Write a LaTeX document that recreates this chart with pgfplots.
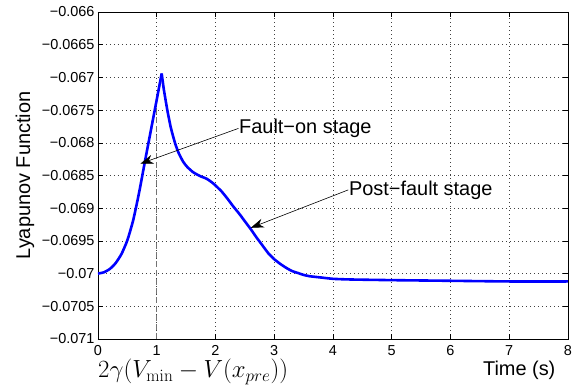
\documentclass[border=0pt]{standalone}
\usepackage[no-math]{fontspec}
\setmainfont{Liberation Sans}
\usepackage{pgfplots}
\pgfplotsset{compat=1.18}
\usetikzlibrary{arrows.meta}
\begin{document}
\begin{tikzpicture}
\useasboundingbox (-98bp,-47bp) rectangle (480bp,339bp);
\begin{axis}[
  at={(0,0)}, anchor=south west,
  scale only axis, width=470bp, height=327bp,
  xmin=0, xmax=8, ymin=-0.071, ymax=-0.066,
  xtick={0,1,2,3,4,5,6,7,8},
  ytick={-0.071,-0.0705,-0.07,-0.0695,-0.069,-0.0685,-0.068,-0.0675,-0.067,-0.0665,-0.066},
  yticklabels={−0.071,−0.0705,−0.07,−0.0695,−0.069,−0.0685,−0.068,−0.0675,−0.067,−0.0665,−0.066},
  xticklabels={0,1,2,3,4,5,6,7,8},
  scaled y ticks=false,
  tick align=inside, xtick pos=both, ytick pos=both,
  major tick length=5bp,
  tick style={black, line width=0.5bp},
  ticklabel style={font=\fontsize{14.5}{16}\selectfont},
  xticklabel style={yshift=-3bp},
  grid=major,
  grid style={black!75, line width=0.5bp, dash pattern=on 0.8bp off 3.2bp},
  axis line style={black, line width=0.9bp},
  clip=false,
]
\addplot[black!55, line width=1.2bp, dash pattern=on 6bp off 3bp] coordinates {(1,-0.071) (1,-0.06734)};
\addplot[blue, line width=2.6bp, smooth, tension=0.35, line join=round] coordinates {
(0,-0.07000) (0.1,-0.06998) (0.2,-0.069930) (0.3,-0.069840) (0.4,-0.069700)
(0.5,-0.069490) (0.6,-0.069180) (0.7,-0.068760) (0.8,-0.068280) (0.9,-0.067810)
(1.0,-0.067340) (1.04,-0.067150) (1.084,-0.066940)
};
\addplot[blue, line width=2.6bp, smooth, tension=0.35, line join=round] coordinates {
(1.084,-0.06694) (1.12,-0.06718) (1.18,-0.06750) (1.24,-0.06777) (1.31,-0.06800)
(1.37,-0.06815) (1.45,-0.06829) (1.52,-0.06837) (1.62,-0.06845) (1.74,-0.06851)
(1.85,-0.06855) (1.96,-0.06862) (2.1,-0.06874) (2.2,-0.06885) (2.3,-0.06897)
(2.4,-0.06908) (2.5,-0.06920) (2.6,-0.06932) (2.7,-0.06945) (2.8,-0.06957)
(2.9,-0.06969) (3.0,-0.06978) (3.1,-0.06985) (3.2,-0.06991) (3.3,-0.06996)
(3.4,-0.06999) (3.5,-0.07002) (3.6,-0.07004) (3.8,-0.07006) (4.0,-0.07008)
(4.3,-0.07009) (5,-0.07010) (6,-0.07011) (7,-0.07012) (8,-0.07012)
};
\draw[black, line width=0.6bp, -{Stealth[length=13bp,width=9bp,inset=4bp]}] (axis cs:2.39,-0.06778) -- (axis cs:0.72,-0.06832);
\draw[black, line width=0.6bp, -{Stealth[length=13bp,width=9bp,inset=4bp]}] (axis cs:4.26,-0.06872) -- (axis cs:2.60,-0.06930);
\node[anchor=west, inner sep=0pt, font=\fontsize{20}{22}\selectfont] at (axis cs:2.40,-0.06778) {Fault−on stage};
\node[anchor=west, inner sep=0pt, font=\fontsize{20}{22}\selectfont] at (axis cs:4.27,-0.06872) {Post−fault stage};
\node[inner sep=0pt, font=\fontsize{20}{22}\selectfont] at ([yshift=-31bp]axis cs:7.17,-0.071) {Time (s)};
\node[anchor=west, inner sep=0pt, font=\fontsize{23.5}{25}\selectfont] at ([yshift=-33bp]axis cs:0,-0.071) {$2\gamma(V_{\min}-V(x_{pre}))$};
\node[rotate=90, inner sep=0pt, font=\fontsize{20}{22}\selectfont] at ([xshift=-73bp]rel axis cs:0,0.5) {Lyapunov Function};
\end{axis}
\end{tikzpicture}
\end{document}
